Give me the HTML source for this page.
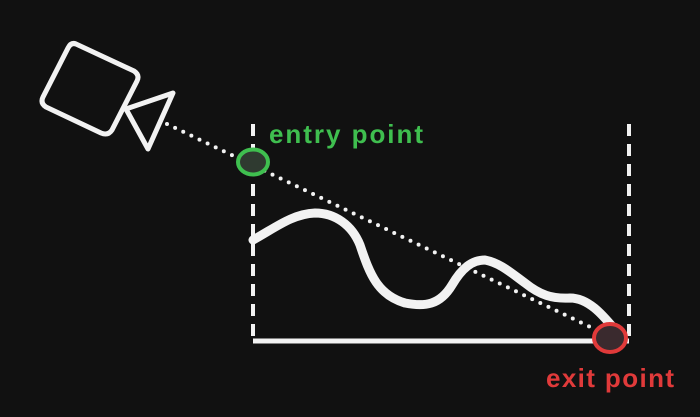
<!DOCTYPE html>
<html><head><meta charset="utf-8"><style>
html,body{margin:0;padding:0;background:#111111;}
svg{display:block}
text{font-family:"Liberation Sans",sans-serif;font-size:26px;font-weight:bold;}
</style></head><body>
<svg width="700" height="417" viewBox="0 0 700 417">
<rect width="700" height="417" fill="#111111"/>
<g fill="none" stroke="#f2f2f2" stroke-width="5" stroke-linejoin="round">
<path d="M76,44 L134,71 Q140,75 137,81 L112,130 Q108,136 101,133 L46,107 Q40,103 43,97 L68,48 Q71,42 76,44 Z"/>
<path d="M126,109 L173,93 L148,149 Z"/>
</g>
<line x1="253" y1="124" x2="253" y2="340" stroke="#f2f2f2" stroke-width="4" stroke-dasharray="12,8"/>
<line x1="629" y1="124" x2="629" y2="340" stroke="#f2f2f2" stroke-width="4" stroke-dasharray="12,8"/>
<line x1="253" y1="341" x2="629" y2="341" stroke="#f2f2f2" stroke-width="5"/>
<path fill="none" stroke="#f2f2f2" stroke-width="9" stroke-linecap="round" stroke-linejoin="round"
d="M253,240 C275,228 292,214 315,213 C335,213 352,225 360,245 C370,275 378,295 405,303 C425,307 440,305 452,285 C462,268 472,260 485,260 C500,263 510,272 525,283 C540,295 552,299 570,298 C590,298 605,318 617,332"/>
<line x1="167" y1="124" x2="605" y2="334" stroke="#f2f2f2" stroke-width="4" stroke-linecap="round" stroke-dasharray="0,9"/>
<ellipse cx="253" cy="162" rx="15" ry="12.5" fill="#2f3a30" stroke="#3fbf4f" stroke-width="4"/>
<ellipse cx="610" cy="338" rx="16" ry="14" fill="#3a2a2e" stroke="#e03a3a" stroke-width="4"/>
<text x="269" y="143" fill="#3fbf4f" textLength="154" lengthAdjust="spacing">entry point</text>
<text x="546" y="387" fill="#e03a3a" textLength="128" lengthAdjust="spacing">exit point</text>
</svg>
</body></html>
